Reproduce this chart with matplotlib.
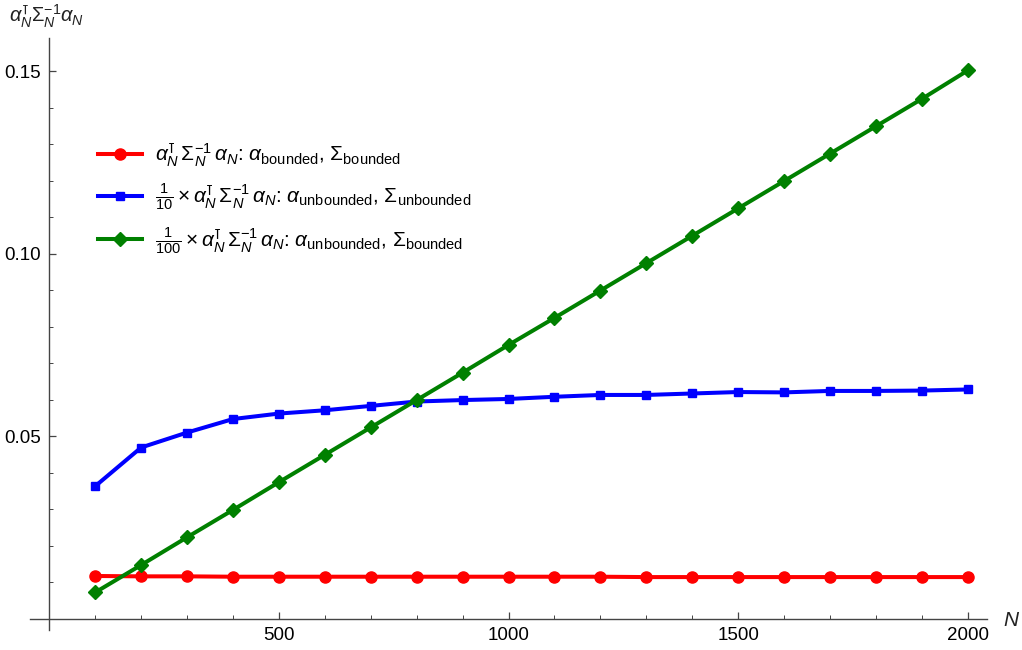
import matplotlib
matplotlib.use("Agg")
import matplotlib.pyplot as plt
from matplotlib.ticker import MultipleLocator, FixedLocator

plt.rcParams['font.family'] = ['Liberation Sans', 'DejaVu Sans']
plt.rcParams['mathtext.fontset'] = 'custom'
plt.rcParams['mathtext.rm'] = 'Liberation Sans'
plt.rcParams['mathtext.it'] = 'Liberation Sans:italic'
plt.rcParams['mathtext.bf'] = 'Liberation Sans:bold'
plt.rcParams['mathtext.fallback'] = 'stixsans'

# Sample sizes
N = [100, 200, 300, 400, 500, 600, 700, 800, 900, 1000,
     1100, 1200, 1300, 1400, 1500, 1600, 1700, 1800, 1900, 2000]

# alpha bounded, Sigma bounded
red_vals = [0.0117, 0.0116, 0.0116, 0.0115, 0.0115, 0.0115, 0.0115, 0.0115, 0.0115, 0.0115,
            0.0115, 0.0115, 0.0114, 0.0114, 0.0114, 0.0114, 0.0114, 0.0114, 0.0114, 0.0114]

# (1/10) x alpha unbounded, Sigma unbounded
blue_vals = [0.0363, 0.0469, 0.0510, 0.0547, 0.0562, 0.0571, 0.0583, 0.0595, 0.0599, 0.0602,
             0.0608, 0.0613, 0.0613, 0.0617, 0.0621, 0.0620, 0.0624, 0.0624, 0.0625, 0.0628]

# (1/100) x alpha unbounded, Sigma bounded
green_vals = [0.0072, 0.0147, 0.0223, 0.0298, 0.0374, 0.0449, 0.0524, 0.0599, 0.0674, 0.0750,
              0.0824, 0.0899, 0.0974, 0.1049, 0.1124, 0.1199, 0.1274, 0.1349, 0.1424, 0.1502]

AX = r'\alpha_N^{\intercal}\,\Sigma_N^{-1}\,\alpha_N'
labels = [
    r'$' + AX + r'$: $\alpha_{\mathrm{bounded}}$, $\Sigma_{\mathrm{bounded}}$',
    r'$\frac{1}{10}\times' + AX + r'$: $\alpha_{\mathrm{unbounded}}$, $\Sigma_{\mathrm{unbounded}}$',
    r'$\frac{1}{100}\times' + AX + r'$: $\alpha_{\mathrm{unbounded}}$, $\Sigma_{\mathrm{bounded}}$',
]

W, H = 1022, 650
fig = plt.figure(figsize=(W / 100, H / 100), dpi=100)
ax = fig.add_axes([30 / W, 20 / H, 957 / W, 592 / H])

ax.plot(N, red_vals, color='#ff0000', lw=2.9, marker='o', ms=8, zorder=3, label=labels[0])
ax.plot(N, blue_vals, color='#0000ff', lw=2.9, marker='s', ms=5.5, zorder=4, label=labels[1])
ax.plot(N, green_vals, color='#008000', lw=2.9, marker='D', ms=6.8, zorder=5, label=labels[2])

ax.set_xlim(-42, 2042)
ax.set_ylim(-0.0031, 0.1591)

for s in ('top', 'right'):
    ax.spines[s].set_visible(False)
ax.spines['left'].set_position(('data', 0))
ax.spines['bottom'].set_position(('data', 0))
for s in ('left', 'bottom'):
    ax.spines[s].set_color('#444444')
    ax.spines[s].set_linewidth(1.0)

ax.xaxis.set_major_locator(FixedLocator([500, 1000, 1500, 2000]))
ax.xaxis.set_minor_locator(MultipleLocator(100))
ax.yaxis.set_major_locator(FixedLocator([0.05, 0.10, 0.15]))
ax.yaxis.set_minor_locator(MultipleLocator(0.01))
ax.set_yticklabels(['0.05', '0.10', '0.15'])
ax.tick_params(which='major', direction='in', length=5, width=0.9, color='#444444',
               labelsize=13.5, pad=6)
ax.tick_params(which='minor', direction='in', length=3, width=0.7, color='#444444')

fig.text(1003 / W, 1 - 620 / H, r'$N$', fontsize=15, ha='left', va='center', color='#222222')
fig.text(9 / W, 1 - 16 / H, r'$' + AX.replace(r'\,', '') + r'$', fontsize=14.5,
         ha='left', va='center', color='#222222')

leg = ax.legend(loc='upper left', bbox_to_anchor=(88 / W, 1 - 131 / H),
                bbox_transform=fig.transFigure, frameon=False, fontsize=15,
                handlelength=2.1, handletextpad=0.6, labelspacing=0.62, borderpad=0)

fig.savefig('out.png', dpi=100)
